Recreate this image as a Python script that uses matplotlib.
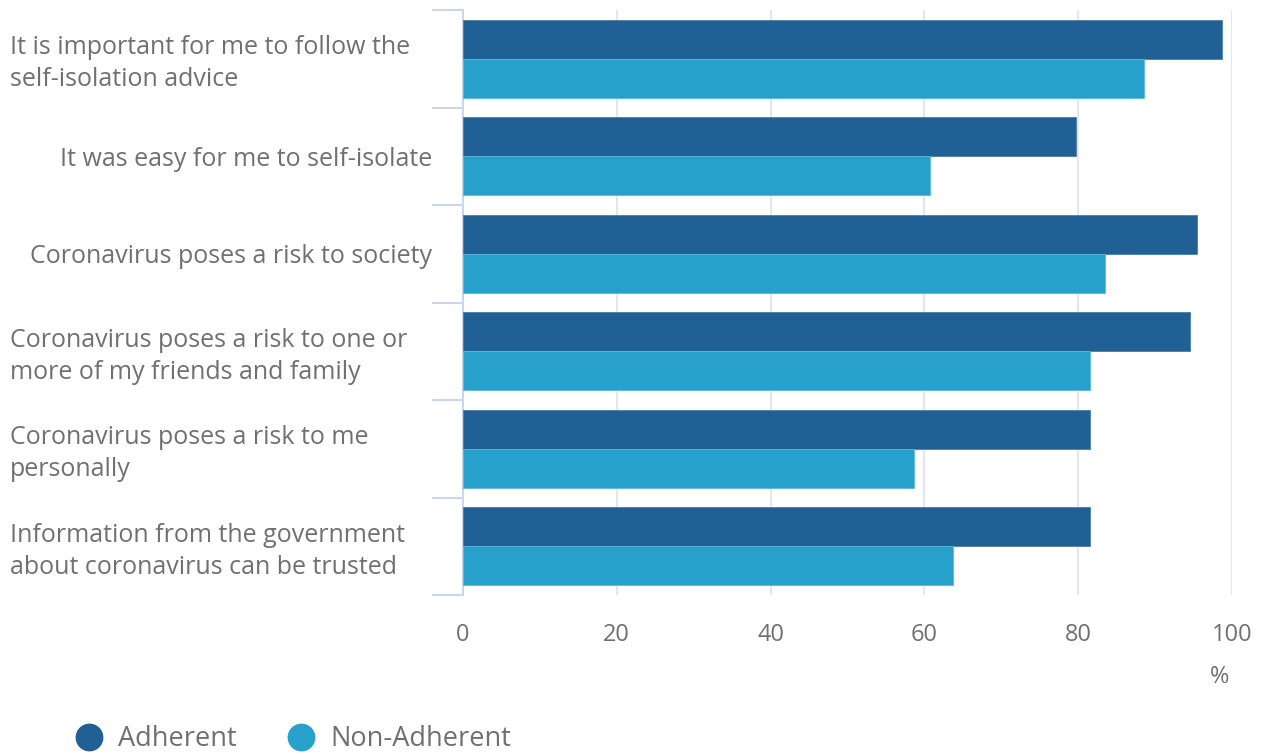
import matplotlib.pyplot as plt
from matplotlib.lines import Line2D
from matplotlib.transforms import blended_transform_factory, ScaledTranslation
import numpy as np

plt.rcParams['font.family'] = ['Open Sans', 'DejaVu Sans']

# Data
CATEGORIES = [
    "It is important for me to follow the\nself-isolation advice",
    "It was easy for me to self-isolate",
    "Coronavirus poses a risk to society",
    "Coronavirus poses a risk to one or\nmore of my friends and family",
    "Coronavirus poses a risk to me\npersonally",
    "Information from the government\nabout coronavirus can be trusted",
]
ADHERENT = [98.7, 79.7, 95.4, 94.5, 81.5, 81.5]
NON_ADHERENT = [88.5, 60.7, 83.5, 81.5, 58.7, 63.7]
SERIES_NAMES = ["Adherent", "Non-Adherent"]
X_TICKS = [0, 20, 40, 60, 80, 100]

# Style
DARK = '#206095'
LIGHT = '#27a0cc'
TEXT = '#707070'
GRID = '#e6e6e6'
AXIS = '#ccd6eb'
W, H = 1261, 753

fig = plt.figure(figsize=(W / 100, H / 100), dpi=100)
ax = fig.add_axes([463 / W, 1 - 595 / H, (1232 - 463) / W, (595 - 10) / H])

n = len(CATEGORIES)
y = np.arange(n)
bh = 0.4
ax.barh(y - bh / 2, ADHERENT, height=bh, color=DARK, edgecolor='#4a7fa8', linewidth=0.6, zorder=3)
ax.barh(y + bh / 2, NON_ADHERENT, height=bh, color=LIGHT, edgecolor='#5ab8dc', linewidth=0.6, zorder=3)

ax.set_xlim(0, 100)
ax.set_ylim(n - 0.5, -0.5)

# grid
for t in X_TICKS[1:]:
    ax.axvline(t, color=GRID, linewidth=1.5, zorder=1)

for s in ['top', 'right', 'bottom']:
    ax.spines[s].set_visible(False)
ax.spines['left'].set_color(AXIS)
ax.spines['left'].set_linewidth(1.5)

ax.set_xticks(X_TICKS)
ax.set_xticklabels([str(t) for t in X_TICKS], fontsize=17, color=TEXT)
ax.tick_params(axis='x', length=0, pad=20)

ax.set_yticks(np.arange(n + 1) - 0.5)
ax.set_yticklabels([])
ax.tick_params(axis='y', length=22, width=1.5, color=AXIS)

# category labels
trans = blended_transform_factory(fig.transFigure, ax.transData)
for i, lab in enumerate(CATEGORIES):
    if '\n' in lab:
        shift = ScaledTranslation(0, -5 / 100, fig.dpi_scale_trans)
        ax.text(10 / W, i, lab, transform=trans + shift, ha='left', va='center',
                fontsize=18, color=TEXT, linespacing=1.37)
    else:
        shift = ScaledTranslation(0, -3 / 100, fig.dpi_scale_trans)
        ax.text(432 / W, i, lab, transform=trans + shift, ha='right', va='center',
                fontsize=18, color=TEXT)

fig.text(1220 / W, 1 - 677 / H, '%', ha='center', va='center', fontsize=17, color=TEXT)

handles = [Line2D([], [], marker='o', linestyle='none', markersize=19, color=c)
           for c in (DARK, LIGHT)]
fig.legend(handles, SERIES_NAMES, loc='center left', bbox_to_anchor=(73 / W, 1 - 739 / H),
           frameon=False, fontsize=19.5, labelcolor=TEXT, ncol=2, handletextpad=0.48,
           columnspacing=1.75, borderaxespad=0, borderpad=0, handlelength=1.2)

fig.savefig('out.png', dpi=100)
